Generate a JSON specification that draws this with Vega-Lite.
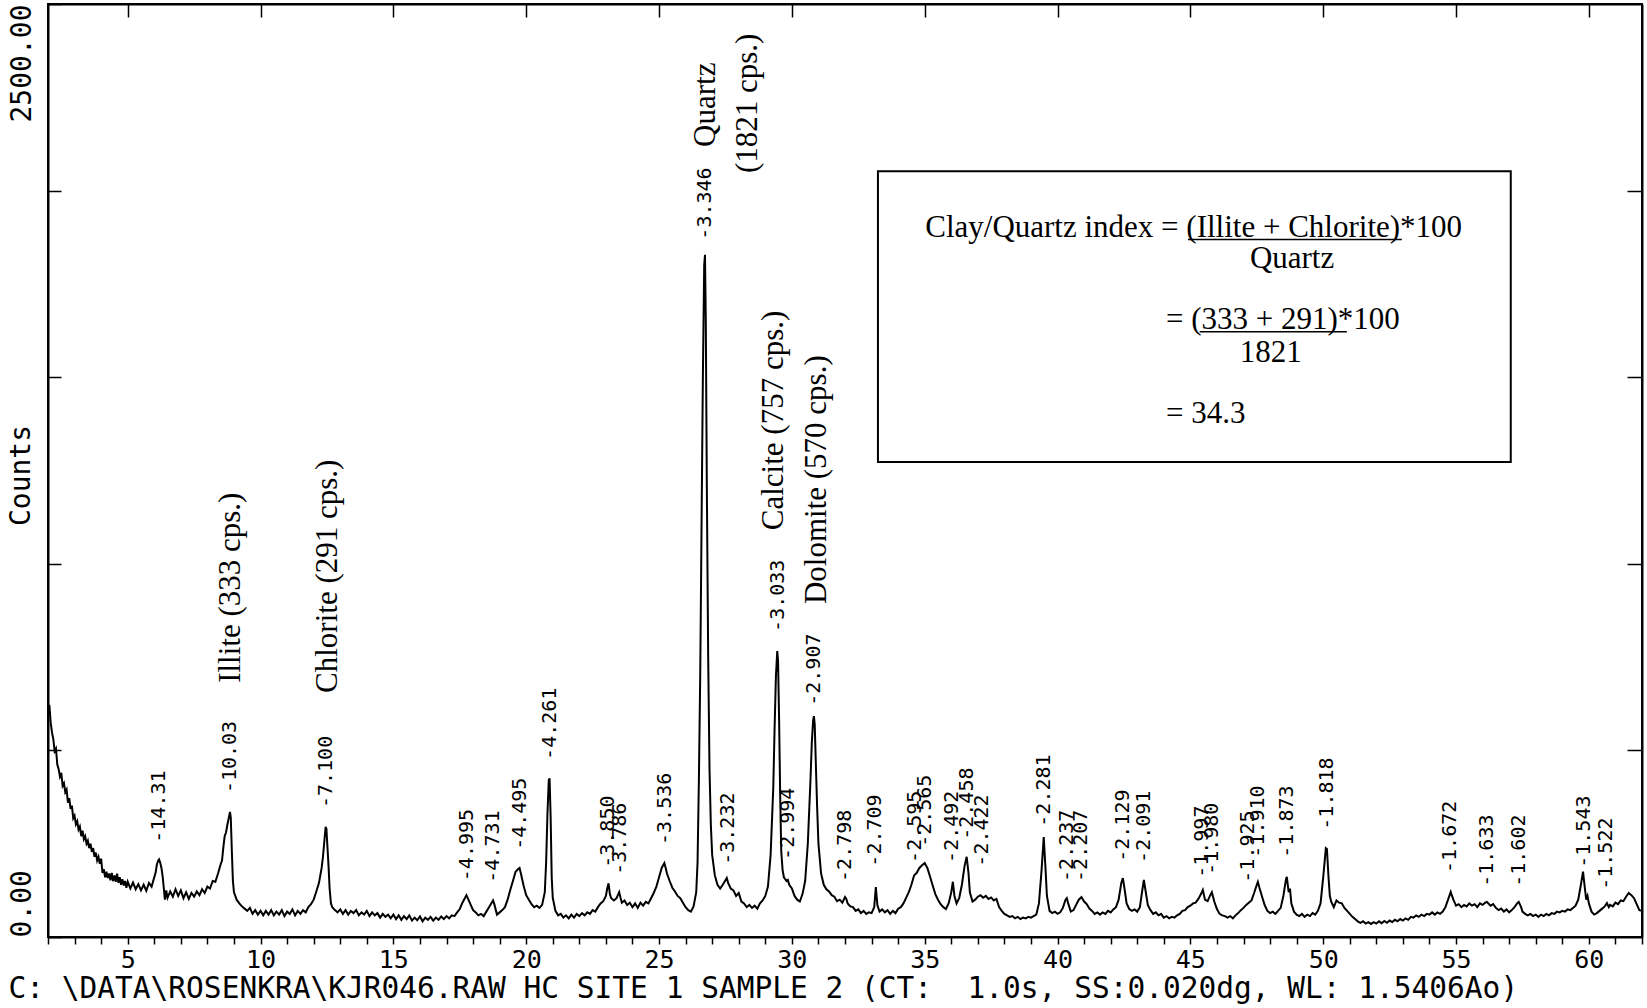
{
"$schema": "https://vega.github.io/schema/vega-lite/v6.json",
"width": 1594, "height": 933,
"autosize": {"type": "none"},
"padding": {"left": 48, "top": 4, "right": 5, "bottom": 71},
"background": "white",
"config": {"view": {"stroke": "black", "strokeWidth": 2}, "axis": {"grid": false, "domainColor": "black", "tickColor": "black", "labelColor": "black", "titleColor": "black"}},
"datasets": {
"trace": [
{"tt":2.00,"c":600},{"tt":2.05,"c":622},{"tt":2.10,"c":575},{"tt":2.15,"c":548},{"tt":2.20,"c":530},{"tt":2.25,"c":498},{"tt":2.30,"c":505},{"tt":2.35,"c":462},{"tt":2.40,"c":450},{"tt":2.45,"c":430},{"tt":2.50,"c":440},{"tt":2.55,"c":405},{"tt":2.60,"c":412},{"tt":2.65,"c":388},{"tt":2.70,"c":395},{"tt":2.75,"c":360},{"tt":2.80,"c":372},{"tt":2.85,"c":343},{"tt":2.90,"c":352},{"tt":2.95,"c":318},{"tt":3.00,"c":325},{"tt":3.05,"c":302},{"tt":3.10,"c":310},{"tt":3.15,"c":288},{"tt":3.20,"c":296},{"tt":3.25,"c":270},{"tt":3.30,"c":285},{"tt":3.35,"c":262},{"tt":3.40,"c":270},{"tt":3.45,"c":250},{"tt":3.50,"c":258},{"tt":3.55,"c":238},{"tt":3.60,"c":250},{"tt":3.65,"c":228},{"tt":3.70,"c":238},{"tt":3.75,"c":215},{"tt":3.80,"c":226},{"tt":3.85,"c":205},{"tt":3.90,"c":215},{"tt":3.95,"c":196},{"tt":4.00,"c":210},{"tt":4.05,"c":172},{"tt":4.10,"c":182},{"tt":4.15,"c":160},{"tt":4.20,"c":175},{"tt":4.25,"c":158},{"tt":4.30,"c":170},{"tt":4.35,"c":152},{"tt":4.40,"c":172},{"tt":4.45,"c":150},{"tt":4.50,"c":165},{"tt":4.55,"c":148},{"tt":4.60,"c":170},{"tt":4.65,"c":145},{"tt":4.70,"c":160},{"tt":4.75,"c":140},{"tt":4.80,"c":155},{"tt":4.85,"c":138},{"tt":4.90,"c":150},{"tt":4.95,"c":132},{"tt":5.00,"c":148},{"tt":5.10,"c":130},{"tt":5.20,"c":146},{"tt":5.30,"c":128},{"tt":5.40,"c":142},{"tt":5.50,"c":125},{"tt":5.60,"c":140},{"tt":5.70,"c":124},{"tt":5.80,"c":145},{"tt":5.90,"c":135},{"tt":6.00,"c":160},{"tt":6.05,"c":172},{"tt":6.10,"c":195},{"tt":6.15,"c":205},{"tt":6.18,"c":208},{"tt":6.22,"c":200},{"tt":6.27,"c":185},{"tt":6.32,"c":160},{"tt":6.36,"c":130},{"tt":6.40,"c":100},{"tt":6.45,"c":125},{"tt":6.50,"c":105},{"tt":6.60,"c":122},{"tt":6.70,"c":108},{"tt":6.80,"c":128},{"tt":6.90,"c":110},{"tt":7.00,"c":125},{"tt":7.10,"c":104},{"tt":7.20,"c":120},{"tt":7.30,"c":102},{"tt":7.40,"c":118},{"tt":7.50,"c":108},{"tt":7.60,"c":122},{"tt":7.70,"c":112},{"tt":7.80,"c":128},{"tt":7.90,"c":118},{"tt":8.00,"c":135},{"tt":8.10,"c":130},{"tt":8.20,"c":150},{"tt":8.30,"c":148},{"tt":8.40,"c":170},{"tt":8.50,"c":195},{"tt":8.55,"c":205},{"tt":8.60,"c":240},{"tt":8.65,"c":270},{"tt":8.70,"c":280},{"tt":8.75,"c":300},{"tt":8.80,"c":318},{"tt":8.85,"c":335},{"tt":8.88,"c":320},{"tt":8.92,"c":230},{"tt":8.96,"c":150},{"tt":9.00,"c":120},{"tt":9.05,"c":110},{"tt":9.10,"c":100},{"tt":9.20,"c":90},{"tt":9.30,"c":82},{"tt":9.40,"c":76},{"tt":9.50,"c":70},{"tt":9.60,"c":78},{"tt":9.70,"c":62},{"tt":9.80,"c":72},{"tt":9.90,"c":60},{"tt":10.0,"c":70},{"tt":10.1,"c":58},{"tt":10.2,"c":70},{"tt":10.3,"c":60},{"tt":10.4,"c":72},{"tt":10.5,"c":58},{"tt":10.6,"c":68},{"tt":10.7,"c":60},{"tt":10.8,"c":72},{"tt":10.9,"c":56},{"tt":11.0,"c":68},{"tt":11.1,"c":62},{"tt":11.2,"c":74},{"tt":11.3,"c":58},{"tt":11.4,"c":70},{"tt":11.5,"c":62},{"tt":11.6,"c":72},{"tt":11.7,"c":66},{"tt":11.8,"c":80},{"tt":11.9,"c":88},{"tt":12.0,"c":100},{"tt":12.1,"c":122},{"tt":12.2,"c":145},{"tt":12.3,"c":185},{"tt":12.35,"c":215},{"tt":12.40,"c":255},{"tt":12.45,"c":295},{"tt":12.48,"c":290},{"tt":12.52,"c":240},{"tt":12.56,"c":190},{"tt":12.60,"c":130},{"tt":12.65,"c":90},{"tt":12.70,"c":80},{"tt":12.80,"c":72},{"tt":12.90,"c":66},{"tt":13.0,"c":74},{"tt":13.1,"c":62},{"tt":13.2,"c":72},{"tt":13.3,"c":60},{"tt":13.4,"c":70},{"tt":13.5,"c":64},{"tt":13.6,"c":72},{"tt":13.7,"c":58},{"tt":13.8,"c":66},{"tt":13.9,"c":60},{"tt":14.0,"c":70},{"tt":14.1,"c":56},{"tt":14.2,"c":66},{"tt":14.3,"c":58},{"tt":14.4,"c":64},{"tt":14.5,"c":52},{"tt":14.6,"c":62},{"tt":14.7,"c":54},{"tt":14.8,"c":60},{"tt":14.9,"c":50},{"tt":15.0,"c":60},{"tt":15.1,"c":48},{"tt":15.2,"c":58},{"tt":15.3,"c":46},{"tt":15.4,"c":56},{"tt":15.5,"c":48},{"tt":15.6,"c":58},{"tt":15.7,"c":44},{"tt":15.8,"c":52},{"tt":15.9,"c":45},{"tt":16.0,"c":55},{"tt":16.1,"c":42},{"tt":16.2,"c":52},{"tt":16.3,"c":46},{"tt":16.4,"c":54},{"tt":16.5,"c":44},{"tt":16.6,"c":52},{"tt":16.7,"c":46},{"tt":16.8,"c":55},{"tt":16.9,"c":48},{"tt":17.0,"c":56},{"tt":17.1,"c":50},{"tt":17.2,"c":58},{"tt":17.3,"c":56},{"tt":17.4,"c":66},{"tt":17.5,"c":75},{"tt":17.6,"c":92},{"tt":17.7,"c":105},{"tt":17.75,"c":112},{"tt":17.8,"c":104},{"tt":17.9,"c":88},{"tt":18.0,"c":72},{"tt":18.1,"c":66},{"tt":18.2,"c":58},{"tt":18.3,"c":62},{"tt":18.4,"c":56},{"tt":18.5,"c":68},{"tt":18.6,"c":80},{"tt":18.7,"c":92},{"tt":18.75,"c":98},{"tt":18.8,"c":88},{"tt":18.9,"c":60},{"tt":19.0,"c":66},{"tt":19.1,"c":72},{"tt":19.2,"c":80},{"tt":19.3,"c":100},{"tt":19.4,"c":126},{"tt":19.5,"c":150},{"tt":19.6,"c":175},{"tt":19.7,"c":182},{"tt":19.75,"c":185},{"tt":19.8,"c":170},{"tt":19.9,"c":138},{"tt":20.0,"c":112},{"tt":20.1,"c":100},{"tt":20.2,"c":88},{"tt":20.3,"c":80},{"tt":20.4,"c":84},{"tt":20.5,"c":78},{"tt":20.6,"c":86},{"tt":20.7,"c":120},{"tt":20.75,"c":200},{"tt":20.80,"c":330},{"tt":20.85,"c":420},{"tt":20.88,"c":425},{"tt":20.92,"c":320},{"tt":20.96,"c":160},{"tt":21.0,"c":105},{"tt":21.1,"c":70},{"tt":21.2,"c":58},{"tt":21.3,"c":62},{"tt":21.4,"c":52},{"tt":21.5,"c":58},{"tt":21.6,"c":50},{"tt":21.7,"c":60},{"tt":21.8,"c":52},{"tt":21.9,"c":62},{"tt":22.0,"c":56},{"tt":22.1,"c":64},{"tt":22.2,"c":58},{"tt":22.3,"c":66},{"tt":22.4,"c":62},{"tt":22.5,"c":72},{"tt":22.6,"c":68},{"tt":22.7,"c":80},{"tt":22.8,"c":90},{"tt":22.9,"c":96},{"tt":23.0,"c":110},{"tt":23.05,"c":130},{"tt":23.1,"c":144},{"tt":23.15,"c":115},{"tt":23.2,"c":104},{"tt":23.3,"c":98},{"tt":23.4,"c":104},{"tt":23.5,"c":120},{"tt":23.55,"c":105},{"tt":23.6,"c":92},{"tt":23.7,"c":98},{"tt":23.8,"c":86},{"tt":23.9,"c":92},{"tt":24.0,"c":80},{"tt":24.1,"c":90},{"tt":24.2,"c":78},{"tt":24.3,"c":92},{"tt":24.4,"c":84},{"tt":24.5,"c":94},{"tt":24.6,"c":90},{"tt":24.7,"c":104},{"tt":24.8,"c":118},{"tt":24.9,"c":135},{"tt":25.0,"c":160},{"tt":25.1,"c":185},{"tt":25.2,"c":198},{"tt":25.25,"c":185},{"tt":25.3,"c":170},{"tt":25.4,"c":150},{"tt":25.5,"c":132},{"tt":25.6,"c":122},{"tt":25.7,"c":110},{"tt":25.8,"c":104},{"tt":25.9,"c":92},{"tt":26.0,"c":80},{"tt":26.1,"c":72},{"tt":26.2,"c":68},{"tt":26.3,"c":82},{"tt":26.4,"c":120},{"tt":26.45,"c":200},{"tt":26.5,"c":420},{"tt":26.55,"c":700},{"tt":26.6,"c":1100},{"tt":26.65,"c":1500},{"tt":26.7,"c":1800},{"tt":26.73,"c":1828},{"tt":26.76,"c":1650},{"tt":26.8,"c":1200},{"tt":26.85,"c":750},{"tt":26.9,"c":450},{"tt":26.95,"c":300},{"tt":27.0,"c":220},{"tt":27.1,"c":165},{"tt":27.2,"c":140},{"tt":27.3,"c":130},{"tt":27.4,"c":140},{"tt":27.5,"c":152},{"tt":27.55,"c":158},{"tt":27.6,"c":145},{"tt":27.7,"c":130},{"tt":27.8,"c":125},{"tt":27.9,"c":110},{"tt":28.0,"c":118},{"tt":28.1,"c":95},{"tt":28.2,"c":90},{"tt":28.3,"c":80},{"tt":28.4,"c":86},{"tt":28.5,"c":78},{"tt":28.6,"c":84},{"tt":28.7,"c":76},{"tt":28.8,"c":90},{"tt":28.9,"c":98},{"tt":29.0,"c":110},{"tt":29.1,"c":135},{"tt":29.2,"c":220},{"tt":29.3,"c":400},{"tt":29.35,"c":560},{"tt":29.4,"c":700},{"tt":29.45,"c":766},{"tt":29.48,"c":740},{"tt":29.52,"c":580},{"tt":29.56,"c":380},{"tt":29.6,"c":230},{"tt":29.65,"c":180},{"tt":29.7,"c":160},{"tt":29.8,"c":150},{"tt":29.85,"c":153},{"tt":29.9,"c":140},{"tt":30.0,"c":130},{"tt":30.1,"c":110},{"tt":30.2,"c":100},{"tt":30.3,"c":95},{"tt":30.4,"c":115},{"tt":30.5,"c":150},{"tt":30.6,"c":250},{"tt":30.7,"c":420},{"tt":30.75,"c":520},{"tt":30.8,"c":580},{"tt":30.83,"c":592},{"tt":30.86,"c":570},{"tt":30.9,"c":470},{"tt":30.95,"c":350},{"tt":31.0,"c":250},{"tt":31.1,"c":170},{"tt":31.2,"c":140},{"tt":31.3,"c":128},{"tt":31.4,"c":122},{"tt":31.5,"c":112},{"tt":31.6,"c":108},{"tt":31.7,"c":96},{"tt":31.8,"c":100},{"tt":31.9,"c":92},{"tt":32.0,"c":107},{"tt":32.05,"c":102},{"tt":32.1,"c":90},{"tt":32.2,"c":82},{"tt":32.3,"c":80},{"tt":32.4,"c":70},{"tt":32.5,"c":74},{"tt":32.6,"c":64},{"tt":32.7,"c":70},{"tt":32.8,"c":62},{"tt":32.9,"c":66},{"tt":33.0,"c":64},{"tt":33.1,"c":80},{"tt":33.16,"c":134},{"tt":33.22,"c":85},{"tt":33.3,"c":68},{"tt":33.4,"c":74},{"tt":33.5,"c":66},{"tt":33.6,"c":72},{"tt":33.7,"c":62},{"tt":33.8,"c":70},{"tt":33.9,"c":64},{"tt":34.0,"c":76},{"tt":34.1,"c":80},{"tt":34.2,"c":90},{"tt":34.3,"c":105},{"tt":34.4,"c":120},{"tt":34.5,"c":140},{"tt":34.6,"c":165},{"tt":34.7,"c":172},{"tt":34.8,"c":185},{"tt":34.9,"c":192},{"tt":35.0,"c":198},{"tt":35.1,"c":185},{"tt":35.2,"c":162},{"tt":35.3,"c":138},{"tt":35.4,"c":115},{"tt":35.5,"c":100},{"tt":35.6,"c":88},{"tt":35.7,"c":80},{"tt":35.8,"c":75},{"tt":35.9,"c":90},{"tt":36.0,"c":120},{"tt":36.06,"c":148},{"tt":36.12,"c":110},{"tt":36.2,"c":90},{"tt":36.3,"c":105},{"tt":36.4,"c":140},{"tt":36.5,"c":190},{"tt":36.58,"c":215},{"tt":36.65,"c":170},{"tt":36.7,"c":120},{"tt":36.8,"c":95},{"tt":36.9,"c":100},{"tt":37.0,"c":108},{"tt":37.1,"c":112},{"tt":37.2,"c":105},{"tt":37.3,"c":110},{"tt":37.4,"c":102},{"tt":37.5,"c":106},{"tt":37.6,"c":98},{"tt":37.7,"c":102},{"tt":37.8,"c":80},{"tt":37.9,"c":70},{"tt":38.0,"c":62},{"tt":38.1,"c":58},{"tt":38.2,"c":54},{"tt":38.3,"c":56},{"tt":38.4,"c":50},{"tt":38.5,"c":54},{"tt":38.6,"c":48},{"tt":38.7,"c":52},{"tt":38.8,"c":50},{"tt":38.9,"c":54},{"tt":39.0,"c":52},{"tt":39.1,"c":56},{"tt":39.2,"c":60},{"tt":39.3,"c":90},{"tt":39.4,"c":180},{"tt":39.48,"c":268},{"tt":39.55,"c":180},{"tt":39.6,"c":110},{"tt":39.7,"c":70},{"tt":39.8,"c":64},{"tt":39.9,"c":68},{"tt":40.0,"c":62},{"tt":40.1,"c":66},{"tt":40.2,"c":78},{"tt":40.3,"c":100},{"tt":40.35,"c":104},{"tt":40.4,"c":90},{"tt":40.5,"c":68},{"tt":40.6,"c":72},{"tt":40.7,"c":86},{"tt":40.8,"c":100},{"tt":40.9,"c":107},{"tt":41.0,"c":95},{"tt":41.1,"c":88},{"tt":41.2,"c":76},{"tt":41.3,"c":70},{"tt":41.4,"c":62},{"tt":41.5,"c":66},{"tt":41.6,"c":60},{"tt":41.7,"c":66},{"tt":41.8,"c":62},{"tt":41.9,"c":70},{"tt":42.0,"c":66},{"tt":42.1,"c":74},{"tt":42.2,"c":80},{"tt":42.3,"c":100},{"tt":42.4,"c":145},{"tt":42.46,"c":158},{"tt":42.52,"c":130},{"tt":42.6,"c":90},{"tt":42.7,"c":75},{"tt":42.8,"c":70},{"tt":42.9,"c":74},{"tt":43.0,"c":68},{"tt":43.1,"c":80},{"tt":43.2,"c":130},{"tt":43.25,"c":153},{"tt":43.3,"c":130},{"tt":43.4,"c":85},{"tt":43.5,"c":72},{"tt":43.6,"c":62},{"tt":43.7,"c":66},{"tt":43.8,"c":58},{"tt":43.9,"c":62},{"tt":44.0,"c":52},{"tt":44.1,"c":56},{"tt":44.2,"c":50},{"tt":44.3,"c":54},{"tt":44.4,"c":52},{"tt":44.5,"c":58},{"tt":44.6,"c":62},{"tt":44.7,"c":70},{"tt":44.8,"c":72},{"tt":44.9,"c":80},{"tt":45.0,"c":84},{"tt":45.1,"c":90},{"tt":45.2,"c":92},{"tt":45.3,"c":102},{"tt":45.4,"c":115},{"tt":45.47,"c":126},{"tt":45.55,"c":100},{"tt":45.65,"c":96},{"tt":45.75,"c":112},{"tt":45.81,"c":120},{"tt":45.9,"c":95},{"tt":46.0,"c":75},{"tt":46.1,"c":62},{"tt":46.2,"c":58},{"tt":46.3,"c":56},{"tt":46.4,"c":52},{"tt":46.5,"c":56},{"tt":46.6,"c":50},{"tt":46.7,"c":58},{"tt":46.8,"c":64},{"tt":46.9,"c":72},{"tt":47.0,"c":78},{"tt":47.1,"c":86},{"tt":47.2,"c":92},{"tt":47.3,"c":98},{"tt":47.4,"c":118},{"tt":47.5,"c":140},{"tt":47.54,"c":148},{"tt":47.6,"c":132},{"tt":47.7,"c":108},{"tt":47.8,"c":85},{"tt":47.9,"c":70},{"tt":48.0,"c":64},{"tt":48.1,"c":68},{"tt":48.2,"c":62},{"tt":48.3,"c":70},{"tt":48.4,"c":78},{"tt":48.5,"c":110},{"tt":48.6,"c":155},{"tt":48.63,"c":161},{"tt":48.7,"c":120},{"tt":48.75,"c":130},{"tt":48.8,"c":90},{"tt":48.9,"c":68},{"tt":49.0,"c":60},{"tt":49.1,"c":56},{"tt":49.2,"c":62},{"tt":49.3,"c":54},{"tt":49.4,"c":60},{"tt":49.5,"c":56},{"tt":49.6,"c":64},{"tt":49.7,"c":60},{"tt":49.8,"c":70},{"tt":49.9,"c":90},{"tt":50.0,"c":160},{"tt":50.1,"c":238},{"tt":50.14,"c":236},{"tt":50.2,"c":160},{"tt":50.25,"c":110},{"tt":50.3,"c":95},{"tt":50.4,"c":80},{"tt":50.5,"c":98},{"tt":50.6,"c":92},{"tt":50.7,"c":90},{"tt":50.8,"c":78},{"tt":50.9,"c":70},{"tt":51.0,"c":62},{"tt":51.1,"c":54},{"tt":51.2,"c":48},{"tt":51.3,"c":42},{"tt":51.4,"c":38},{"tt":51.5,"c":42},{"tt":51.6,"c":36},{"tt":51.7,"c":40},{"tt":51.8,"c":35},{"tt":51.9,"c":40},{"tt":52.0,"c":36},{"tt":52.1,"c":42},{"tt":52.2,"c":37},{"tt":52.3,"c":43},{"tt":52.4,"c":38},{"tt":52.5,"c":44},{"tt":52.6,"c":40},{"tt":52.7,"c":46},{"tt":52.8,"c":42},{"tt":52.9,"c":48},{"tt":53.0,"c":44},{"tt":53.1,"c":50},{"tt":53.2,"c":46},{"tt":53.3,"c":54},{"tt":53.4,"c":52},{"tt":53.5,"c":58},{"tt":53.6,"c":54},{"tt":53.7,"c":60},{"tt":53.8,"c":56},{"tt":53.9,"c":62},{"tt":54.0,"c":60},{"tt":54.1,"c":66},{"tt":54.2,"c":60},{"tt":54.3,"c":66},{"tt":54.4,"c":62},{"tt":54.5,"c":68},{"tt":54.6,"c":80},{"tt":54.7,"c":100},{"tt":54.8,"c":121},{"tt":54.85,"c":110},{"tt":54.9,"c":100},{"tt":55.0,"c":84},{"tt":55.1,"c":88},{"tt":55.2,"c":80},{"tt":55.3,"c":86},{"tt":55.4,"c":82},{"tt":55.5,"c":90},{"tt":55.6,"c":84},{"tt":55.7,"c":88},{"tt":55.8,"c":80},{"tt":55.9,"c":90},{"tt":56.0,"c":86},{"tt":56.1,"c":92},{"tt":56.16,"c":94},{"tt":56.3,"c":84},{"tt":56.4,"c":88},{"tt":56.5,"c":78},{"tt":56.6,"c":72},{"tt":56.7,"c":76},{"tt":56.8,"c":68},{"tt":56.9,"c":74},{"tt":57.0,"c":66},{"tt":57.1,"c":72},{"tt":57.2,"c":80},{"tt":57.3,"c":90},{"tt":57.36,"c":94},{"tt":57.45,"c":80},{"tt":57.5,"c":68},{"tt":57.6,"c":62},{"tt":57.7,"c":58},{"tt":57.8,"c":62},{"tt":57.9,"c":56},{"tt":58.0,"c":60},{"tt":58.1,"c":54},{"tt":58.2,"c":60},{"tt":58.3,"c":56},{"tt":58.4,"c":62},{"tt":58.5,"c":58},{"tt":58.6,"c":64},{"tt":58.7,"c":62},{"tt":58.8,"c":68},{"tt":58.9,"c":66},{"tt":59.0,"c":70},{"tt":59.1,"c":68},{"tt":59.2,"c":74},{"tt":59.3,"c":72},{"tt":59.4,"c":78},{"tt":59.5,"c":84},{"tt":59.6,"c":100},{"tt":59.7,"c":140},{"tt":59.78,"c":175},{"tt":59.85,"c":130},{"tt":59.9,"c":100},{"tt":59.95,"c":110},{"tt":60.0,"c":90},{"tt":60.1,"c":68},{"tt":60.2,"c":60},{"tt":60.3,"c":64},{"tt":60.4,"c":70},{"tt":60.5,"c":76},{"tt":60.6,"c":82},{"tt":60.68,"c":91},{"tt":60.75,"c":80},{"tt":60.8,"c":86},{"tt":60.9,"c":82},{"tt":61.0,"c":92},{"tt":61.1,"c":88},{"tt":61.2,"c":98},{"tt":61.3,"c":96},{"tt":61.4,"c":108},{"tt":61.5,"c":118},{"tt":61.6,"c":112},{"tt":61.7,"c":104},{"tt":61.8,"c":88},{"tt":61.9,"c":72},{"tt":62.0,"c":70}
],
"peaks": [
{"d":"-14.31","tt":6.18,"cps":207},{"d":"-10.03","tt":8.85,"cps":340},{"d":"-7.100","tt":12.48,"cps":300},{"d":"-4.995","tt":17.76,"cps":104},{"d":"-4.731","tt":18.76,"cps":100},{"d":"-4.495","tt":19.76,"cps":188},{"d":"-4.261","tt":20.89,"cps":429},{"d":"-3.850","tt":23.08,"cps":140},{"d":"-3.786","tt":23.53,"cps":121},{"d":"-3.536","tt":25.22,"cps":201},{"d":"-3.346","tt":26.73,"cps":1823},{"d":"-3.232","tt":27.6,"cps":148},{"d":"-3.033","tt":29.47,"cps":772},{"d":"-2.994","tt":29.86,"cps":161},{"d":"-2.907","tt":30.83,"cps":574},{"d":"-2.798","tt":32.0,"cps":102},{"d":"-2.709","tt":33.12,"cps":143},{"d":"-2.595","tt":34.63,"cps":153},{"d":"-2.565","tt":35.01,"cps":196},{"d":"-2.492","tt":36.01,"cps":153},{"d":"-2.458","tt":36.58,"cps":215},{"d":"-2.422","tt":37.14,"cps":143},{"d":"-2.281","tt":39.5,"cps":250},{"d":"-2.237","tt":40.34,"cps":102},{"d":"-2.207","tt":40.9,"cps":102},{"d":"-2.129","tt":42.47,"cps":156},{"d":"-2.091","tt":43.25,"cps":153},{"d":"-1.997","tt":45.42,"cps":113},{"d":"-1.980","tt":45.8,"cps":121},{"d":"-1.925","tt":47.16,"cps":100},{"d":"-1.910","tt":47.55,"cps":167},{"d":"-1.873","tt":48.62,"cps":167},{"d":"-1.818","tt":50.13,"cps":242},{"d":"-1.672","tt":54.79,"cps":126},{"d":"-1.633","tt":56.17,"cps":89},{"d":"-1.602","tt":57.37,"cps":89},{"d":"-1.543","tt":59.81,"cps":140},{"d":"-1.522","tt":60.66,"cps":81}
],
"minerals": [
{"t":"Illite (333 cps.)","tt":8.87,"cps":681},{"t":"Chlorite (291 cps.)","tt":12.53,"cps":654},{"t":"Quartz","tt":26.76,"cps":2117},{"t":"(1821 cps.)","tt":28.35,"cps":2047},{"t":"Calcite (757 cps.)","tt":29.32,"cps":1090},{"t":"Dolomite (570 cps.)","tt":30.94,"cps":892}
],
"box": [{"a":33.24,"b":57.06,"y1":1273,"y2":2052}],
"formula": [
{"t":"Clay/Quartz index = (Illite + Chlorite)*100","tt":35.02,"cps":1877},{"t":"Quartz","tt":47.24,"cps":1792},{"t":"= (333 + 291)*100","tt":44.08,"cps":1630},{"t":"1821","tt":46.86,"cps":1540},{"t":"= 34.3","tt":44.08,"cps":1377}
],
"underlines": [{"a":44.91,"b":52.96,"cps":1869},{"a":45.35,"b":50.89,"cps":1622}]
},
"layer": [
{
"data": {"name": "trace"},
"mark": {"type": "line", "color": "black", "strokeWidth": 2, "clip": true},
"encoding": {
"x": {"field": "tt", "type": "quantitative", "scale": {"domain": [2, 62], "nice": false, "zero": false},
"axis": {"orient": "bottom", "values": [2,3,4,5,6,7,8,9,10,11,12,13,14,15,16,17,18,19,20,21,22,23,24,25,26,27,28,29,30,31,32,33,34,35,36,37,38,39,40,41,42,43,44,45,46,47,48,49,50,51,52,53,54,55,56,57,58,59,60,61,62],
"labelExpr": "datum.value % 5 === 0 ? datum.label : ''", "tickSize": 7, "tickWidth": 1.5, "domainWidth": 2,
"labelFont": "DejaVu Sans Mono", "labelFontSize": 25, "labelPadding": 3, "labelOverlap": false, "labelFlush": false, "labelBound": false,
"title": "C: \\DATA\\ROSENKRA\\KJR046.RAW HC SITE 1 SAMPLE 2 (CT:\u00a0 1.0s, SS:0.020dg, WL: 1.5406Ao)",
"titleFont": "DejaVu Sans Mono", "titleFontSize": 29.5, "titleFontWeight": "normal", "titleAnchor": "start", "titleAlign": "left", "titleBaseline": "middle", "titleX": -40, "titleY": 51}},
"y": {"field": "c", "type": "quantitative", "scale": {"domain": [0, 2500], "nice": false, "zero": true},
"axis": {"orient": "left", "values": [0,500,1000,1500,2000,2500], "tickSize": -13, "tickWidth": 1.5, "domainWidth": 2,
"labelExpr": "datum.value === 0 ? '0.00' : (datum.value === 2500 ? '2500.00' : '')",
"labelAngle": 270, "labelAlign": {"condition": {"test": "datum.value === 0", "value": "left"}, "value": "right"}, "labelBaseline": "middle",
"labelPadding": 39, "labelFont": "DejaVu Sans Mono", "labelFontSize": 28, "labelOverlap": false, "labelFlush": false, "labelBound": false,
"title": "Counts", "titleFont": "DejaVu Sans Mono", "titleFontSize": 28, "titleFontWeight": "normal", "titleAngle": 270, "titleAlign": "center", "titleBaseline": "middle", "titleX": -27, "titleY": 471}}
}
},
{
"data": {"name": "peaks"},
"mark": {"type": "text", "angle": 270, "align": "left", "baseline": "middle", "dx": 17, "font": "DejaVu Sans Mono", "fontSize": 20, "color": "black"},
"encoding": {
"x": {"field": "tt", "type": "quantitative", "axis": {"orient": "top", "values": [5,10,15,20,25,30,35,40,45,50,55,60], "labels": false, "tickSize": -13, "tickWidth": 1.5, "domainWidth": 2, "title": null}},
"y": {"field": "cps", "type": "quantitative", "axis": {"orient": "right", "values": [500,1000,1500,2000], "labels": false, "tickSize": -15, "tickWidth": 1.5, "domainWidth": 2, "title": null}},
"text": {"field": "d"}
}
},
{
"data": {"name": "minerals"},
"mark": {"type": "text", "angle": 270, "align": "left", "baseline": "middle", "font": "Liberation Serif", "fontSize": 31, "color": "black"},
"encoding": {
"x": {"field": "tt", "type": "quantitative", "axis": null},
"y": {"field": "cps", "type": "quantitative", "axis": null},
"text": {"field": "t"}
}
},
{
"data": {"name": "box"},
"mark": {"type": "rect", "fill": "white", "stroke": "black", "strokeWidth": 2},
"encoding": {
"x": {"field": "a", "type": "quantitative", "axis": null},
"x2": {"field": "b"},
"y": {"field": "y1", "type": "quantitative", "axis": null},
"y2": {"field": "y2"}
}
},
{
"data": {"name": "formula"},
"mark": {"type": "text", "align": "left", "baseline": "alphabetic", "font": "Liberation Serif", "fontSize": 31, "color": "black"},
"encoding": {
"x": {"field": "tt", "type": "quantitative", "axis": null},
"y": {"field": "cps", "type": "quantitative", "axis": null},
"text": {"field": "t"}
}
},
{
"data": {"name": "underlines"},
"mark": {"type": "rule", "color": "black", "strokeWidth": 1.5},
"encoding": {
"x": {"field": "a", "type": "quantitative", "axis": null},
"x2": {"field": "b"},
"y": {"field": "cps", "type": "quantitative", "axis": null}
}
}
],
"resolve": {"axis": {"x": "independent", "y": "independent"}}
}
